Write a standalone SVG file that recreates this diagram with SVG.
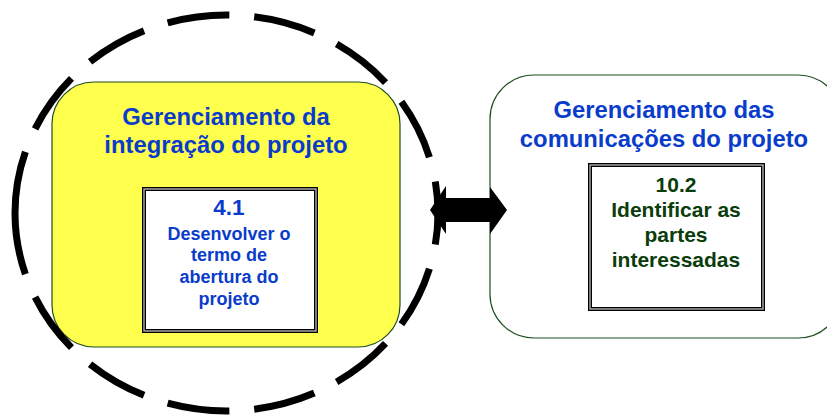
<svg xmlns="http://www.w3.org/2000/svg" width="827" height="419" viewBox="0 0 827 419">
<style>
.title{font-family:"Liberation Sans",Arial,sans-serif;font-weight:bold;font-size:23.8px;fill:#0a3ccc;text-anchor:middle}
.blue{font-family:"Liberation Sans",Arial,sans-serif;font-weight:bold;fill:#0a3ccc;text-anchor:middle}
.green{font-family:"Liberation Sans",Arial,sans-serif;font-weight:bold;font-size:21px;fill:#0b3d0b;text-anchor:middle}
.group{stroke:#1f4d1f;stroke-width:1.2}
.boxo{fill:#fff;stroke:#000;stroke-width:4}
.boxi{fill:none;stroke:#b0b0b0;stroke-width:1.4}
.dash{fill:none;stroke:#000;stroke-width:7;stroke-dasharray:62.6 25}
</style>
<rect width="827" height="419" fill="#fff"/>
<g id="integracao">
<rect class="group" x="52" y="82" width="348" height="265" rx="42" ry="42" fill="#ffff4d"/>
<text class="title" x="226" y="125">Gerenciamento da</text>
<text class="title" x="226" y="153">integração do projeto</text>
</g>
<g id="p41">
<rect class="boxo" x="144" y="189" width="172" height="142"/>
<rect class="boxi" x="144" y="189" width="172" height="142"/>
<text class="blue" x="229" y="215" font-size="22.5">4.1</text>
<text class="blue" x="229" y="240" font-size="18">Desenvolver o</text>
<text class="blue" x="229" y="261" font-size="18">termo de</text>
<text class="blue" x="229" y="283" font-size="18">abertura do</text>
<text class="blue" x="229" y="305" font-size="18">projeto</text>
</g>
<g id="comunicacoes">
<rect class="group" x="490" y="75" width="352" height="263" rx="44" ry="44" fill="#fff"/>
<text class="title" x="664" y="118">Gerenciamento das</text>
<text class="title" x="664" y="147">comunicações do projeto</text>
</g>
<g id="p102">
<rect class="boxo" x="590" y="165" width="173" height="144"/>
<rect class="boxi" x="590" y="165" width="173" height="144"/>
<text class="green" x="676" y="192">10.2</text>
<text class="green" x="676" y="217">Identificar as</text>
<text class="green" x="676" y="242">partes</text>
<text class="green" x="676" y="267">interessadas</text>
</g>
<g id="connectors">
<path class="dash" d="M15,213 A211.5,198 0 0 1 438,213" pathLength="645"/>
<path class="dash" d="M15,213 A211.5,198 0 0 0 438,213" pathLength="645"/>
<polygon points="430,210 446,186 446,198 490,198 490,187 507,210 490,234 490,222 446,222 446,234" fill="#000"/>
</g>
</svg>
